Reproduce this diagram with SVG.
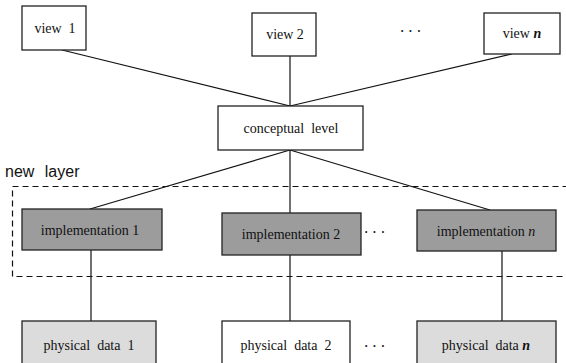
<svg xmlns="http://www.w3.org/2000/svg" width="566" height="363" viewBox="0 0 566 363">
<style>
.box{fill:#fff;stroke:#222;stroke-width:1.3}
.impl{fill:#9c9c9c;stroke:#222;stroke-width:1.3}
.phys{fill:#dcdcdc;stroke:#222;stroke-width:1.3}
.lbl{font-family:"Liberation Serif",serif;font-size:14px;fill:#111;text-anchor:middle}
.conn line{stroke:#111;stroke-width:1.2}
.dots{font-family:"Liberation Serif",serif;font-size:16px;fill:#111;text-anchor:middle;letter-spacing:3px}
</style>
<rect width="566" height="363" fill="#fff"/>
<g class="conn">
<line x1="62" y1="50" x2="290" y2="106"/>
<line x1="290" y1="56" x2="290" y2="106"/>
<line x1="512" y1="54" x2="290" y2="106"/>
<line x1="290" y1="150" x2="90" y2="209"/>
<line x1="290" y1="150" x2="290" y2="213"/>
<line x1="290" y1="150" x2="490" y2="210"/>
<line x1="91" y1="250" x2="91" y2="321"/>
<line x1="290" y1="255" x2="290" y2="321"/>
<line x1="502" y1="251" x2="502" y2="321"/>
</g>
<g id="layer">
<rect x="12.5" y="186.5" width="560" height="90" fill="none" stroke="#111" stroke-width="1.2" stroke-dasharray="6,4"/>
<text x="5" y="177" font-family="Liberation Sans,Arial,sans-serif" font-size="16" fill="#111" word-spacing="6">new layer</text>
</g>
<g id="view1"><rect class="box" x="22" y="6" width="64" height="44"/><text class="lbl" x="55" y="33" xml:space="preserve">view  1</text></g>
<g id="view2"><rect class="box" x="252" y="13" width="64" height="43"/><text class="lbl" x="285" y="39">view 2</text></g>
<g id="viewn"><rect class="box" x="484" y="13" width="76" height="41"/><text class="lbl" x="522" y="38">view <tspan font-style="italic" font-weight="bold">n</tspan></text></g>
<text class="dots" x="412" y="37">···</text>
<g id="conceptual"><rect class="box" x="218" y="106" width="145" height="44"/><text class="lbl" x="291" y="133" xml:space="preserve">conceptual  level</text></g>
<g id="impl1"><rect class="impl" x="22" y="209" width="140" height="41"/><text class="lbl" x="90" y="235">implementation 1</text></g>
<g id="impl2"><rect class="impl" x="222" y="213" width="139" height="42"/><text class="lbl" x="291" y="239">implementation 2</text></g>
<g id="impln"><rect class="impl" x="417" y="210" width="139" height="41"/><text class="lbl" x="486" y="236">implementation <tspan font-style="italic">n</tspan></text></g>
<text class="dots" x="376" y="238">···</text>
<g id="phys1"><rect class="phys" x="22" y="321" width="134" height="50"/><text class="lbl" x="89" y="350" xml:space="preserve">physical  data  1</text></g>
<g id="phys2"><rect class="box" x="222" y="321" width="128" height="50"/><text class="lbl" x="286" y="350" xml:space="preserve">physical  data  2</text></g>
<g id="physn"><rect class="phys" x="417" y="321" width="139" height="50"/><text class="lbl" x="486" y="350" xml:space="preserve">physical  data <tspan font-style="italic" font-weight="bold">n</tspan></text></g>
<text class="dots" x="376" y="352">···</text>
</svg>
